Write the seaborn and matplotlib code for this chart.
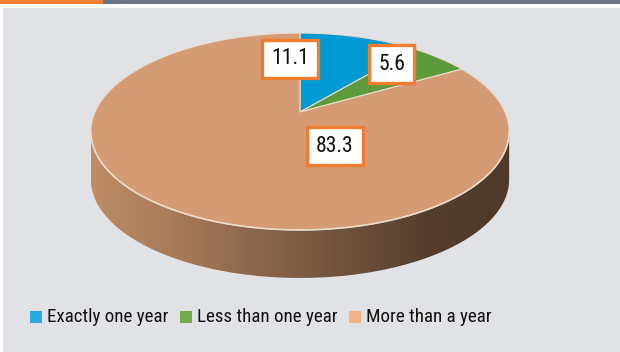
import numpy as np
import matplotlib
matplotlib.use("Agg")
import matplotlib.pyplot as plt
from matplotlib.patches import Polygon, Rectangle
from matplotlib.colors import LinearSegmentedColormap
from matplotlib import font_manager as fm
import seaborn as sns

# ---- data ----
categories = ["Exactly one year", "Less than one year", "More than a year"]
values = [11.1, 5.6, 83.3]
value_labels = ["11.1", "5.6", "83.3"]
top_colors = ["#0399d3", "#5c9b3b", "#d49b75"]
legend_colors = ["#29abe2", "#70ad47", "#f4b183"]

sns.set_theme(style="white")
plt.rcParams["font.family"] = ["Roboto", "DejaVu Sans"]

# prefer a condensed face if one is installed
fprop = None
for pref in ["Roboto", "DejaVu", "Liberation", "Noto", "Open", ""]:
    for f in fm.fontManager.ttflist:
        fn = f.fname.lower()
        if (("condensed" in fn or "narrow" in fn) and pref.lower() in fn
                and "bold" not in fn and "italic" not in fn
                and "oblique" not in fn and "light" not in fn
                and "semi" not in fn and "extra" not in fn
                and "medium" not in fn and "thin" not in fn
                and "black" not in fn):
            fprop = fm.FontProperties(fname=f.fname)
            break
    if fprop is not None:
        break
if fprop is None:
    fprop = fm.FontProperties(family=["Roboto", "DejaVu Sans"])

fig = plt.figure(figsize=(6.2, 3.52), dpi=100)
ax = fig.add_axes([0, 0, 1, 1])
ax.set_xlim(0, 620)
ax.set_ylim(352, 0)
ax.axis("off")
fig.patch.set_facecolor("white")
renderer = fig.canvas.get_renderer()

# header bar and background
ax.add_patch(Rectangle((0, 0), 103, 4, fc="#f08031", ec="none"))
ax.add_patch(Rectangle((103, 0), 517, 4, fc="#6b7385", ec="none"))
ax.add_patch(Rectangle((3, 8), 617, 344, fc="#e1e2e5", ec="none"))

# perspective pie geometry
cx, cy, A, B, k, depth = 300, 112, 205, 94.6, 0.198, 48


def pts(th_deg, dy=0.0):
    th = np.radians(th_deg)
    u, v = np.sin(th), np.cos(th)
    w = 1 + k * v
    return np.column_stack([cx + A * u / w, cy - B * v / w + dy])


# side wall (front half)
t0 = np.degrees(np.arccos(-k))
ths = np.linspace(t0, 360 - t0, 200)
side = np.vstack([pts(ths), pts(ths[::-1], depth)])
side_poly = Polygon(side, closed=True, fc="none", ec="none")
ax.add_patch(side_poly)
stops = [(0.0, "#be8d67"), (0.28, "#9d7252"), (0.5, "#7d5c44"),
         (0.8, "#563e2e"), (1.0, "#4e392a")]
cmap = LinearSegmentedColormap.from_list("side", stops)
xmin, xmax = side[:, 0].min(), side[:, 0].max()
grad = np.linspace(0, 1, 256)[None, :]
im = ax.imshow(grad, cmap=cmap, aspect="auto",
               extent=(xmin, xmax, side[:, 1].max(), side[:, 1].min()),
               zorder=2)
im.set_clip_path(side_poly)
ax.plot(pts(ths)[:, 0], pts(ths)[:, 1], color="#eadbc8", lw=1.2, zorder=4)

# top wedges
fracs = np.array(values) / sum(values)
start = 0.0
for val, col in zip(fracs, top_colors):
    end = start + val * 360
    arc = pts(np.linspace(start, end, 120))
    poly = np.vstack([[cx, cy], arc])
    ax.add_patch(Polygon(poly, closed=True, fc=col, ec="#e9dccd",
                         lw=0.8, zorder=3))
    start = end


def fit_size(text, target_px, base=15):
    t = ax.text(0, 0, text, fontproperties=fprop, fontsize=base)
    w = t.get_window_extent(renderer=renderer).width
    t.remove()
    return base * target_px / w


# value labels
label_pos = [(290, 59), (391.5, 64), (335, 146)]
lab_size = fit_size("83.3", 38)
for txt, (x, y) in zip(value_labels, label_pos):
    t = ax.text(x, y, txt, ha="center", va="center",
                fontproperties=fprop, color="#111111", zorder=6)
    t.set_fontsize(lab_size)
    bb = t.get_window_extent(renderer=renderer)
    bw, bh = bb.width + 18, 38
    ax.add_patch(Rectangle((x - bw / 2, y - bh / 2), bw, bh, fc="white",
                           ec="#ef7d2d", lw=2.4, zorder=5))

# legend
leg_x = [30, 180, 349]
leg_size = fit_size("Less than one year", 141)
for x, col, name in zip(leg_x, legend_colors, categories):
    ax.add_patch(Rectangle((x, 311), 12, 12, fc=col, ec="none", zorder=5))
    t = ax.text(x + 17, 317, name, ha="left", va="center",
                fontproperties=fprop, color="#111111", zorder=5)
    t.set_fontsize(leg_size)

fig.savefig("out.png", dpi=100)
